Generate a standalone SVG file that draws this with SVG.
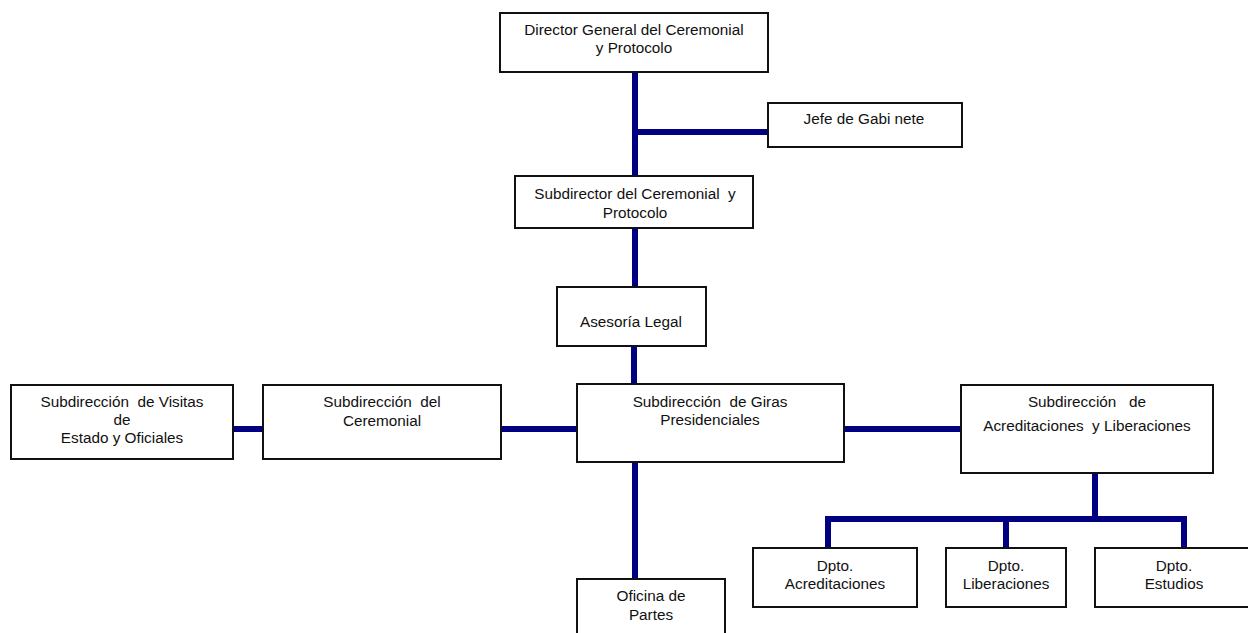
<svg xmlns="http://www.w3.org/2000/svg" width="1248" height="633" viewBox="0 0 1248 633">
<style>
.box{fill:#fff;stroke:#111;stroke-width:2}
.t{font-family:"Liberation Sans",Arial,sans-serif;font-size:15.3px;fill:#111;text-anchor:middle;white-space:pre}
.c{stroke:#000080;stroke-width:6;fill:none}
</style>
<rect width="1248" height="633" fill="#fff"/>
<g id="connectors">
<line class="c" x1="635" y1="72" x2="635" y2="176"/>
<line class="c" x1="635" y1="132" x2="768" y2="132"/>
<line class="c" x1="635" y1="228" x2="635" y2="287"/>
<line class="c" x1="634" y1="346" x2="634" y2="384"/>
<line class="c" x1="635" y1="462" x2="635" y2="579"/>
<line class="c" x1="233" y1="429" x2="263" y2="429"/>
<line class="c" x1="501" y1="429" x2="577" y2="429"/>
<line class="c" x1="844" y1="429" x2="961" y2="429"/>
<line class="c" x1="1095" y1="473" x2="1095" y2="519"/>
<polyline class="c" points="828,548 828,519 1184,519 1184,548"/>
<line class="c" x1="1006" y1="519" x2="1006" y2="548"/>
</g>
<g id="director">
<rect class="box" x="500" y="13" width="268" height="59"/>
<text class="t" x="634" y="35">Director General del Ceremonial</text>
<text class="t" x="634" y="53">y Protocolo</text>
</g>
<g id="jefe">
<rect class="box" x="768" y="103" width="194" height="44"/>
<text class="t" x="864" y="124">Jefe de Gabi nete</text>
</g>
<g id="subdirector">
<rect class="box" x="515" y="176" width="238" height="52"/>
<text class="t" x="635" y="199">Subdirector del Ceremonial  y</text>
<text class="t" x="635" y="218">Protocolo</text>
</g>
<g id="asesoria">
<rect class="box" x="557" y="287" width="149" height="59"/>
<text class="t" x="631" y="327">Asesoría Legal</text>
</g>
<g id="visitas">
<rect class="box" x="11" y="385" width="222" height="74"/>
<text class="t" x="122" y="407">Subdirección  de Visitas</text>
<text class="t" x="122" y="425">de</text>
<text class="t" x="122" y="443">Estado y Oficiales</text>
</g>
<g id="ceremonial">
<rect class="box" x="263" y="385" width="238" height="74"/>
<text class="t" x="382" y="407">Subdirección  del</text>
<text class="t" x="382" y="426">Ceremonial</text>
</g>
<g id="giras">
<rect class="box" x="577" y="384" width="267" height="78"/>
<text class="t" x="710" y="407">Subdirección  de Giras</text>
<text class="t" x="710" y="425">Presidenciales</text>
</g>
<g id="acreditaciones-liberaciones">
<rect class="box" x="961" y="385" width="252" height="88"/>
<text class="t" x="1087" y="407">Subdirección   de</text>
<text class="t" x="1087" y="431">Acreditaciones  y Liberaciones</text>
</g>
<g id="oficina">
<rect class="box" x="577" y="579" width="148" height="70"/>
<text class="t" x="651" y="601">Oficina de</text>
<text class="t" x="651" y="620">Partes</text>
</g>
<g id="dpto-acreditaciones">
<rect class="box" x="753" y="548" width="164" height="59"/>
<text class="t" x="835" y="571">Dpto.</text>
<text class="t" x="835" y="589">Acreditaciones</text>
</g>
<g id="dpto-liberaciones">
<rect class="box" x="946" y="548" width="120" height="59"/>
<text class="t" x="1006" y="571">Dpto.</text>
<text class="t" x="1006" y="589">Liberaciones</text>
</g>
<g id="dpto-estudios">
<rect class="box" x="1095" y="548" width="160" height="59"/>
<text class="t" x="1174" y="571">Dpto.</text>
<text class="t" x="1174" y="589">Estudios</text>
</g>
</svg>
